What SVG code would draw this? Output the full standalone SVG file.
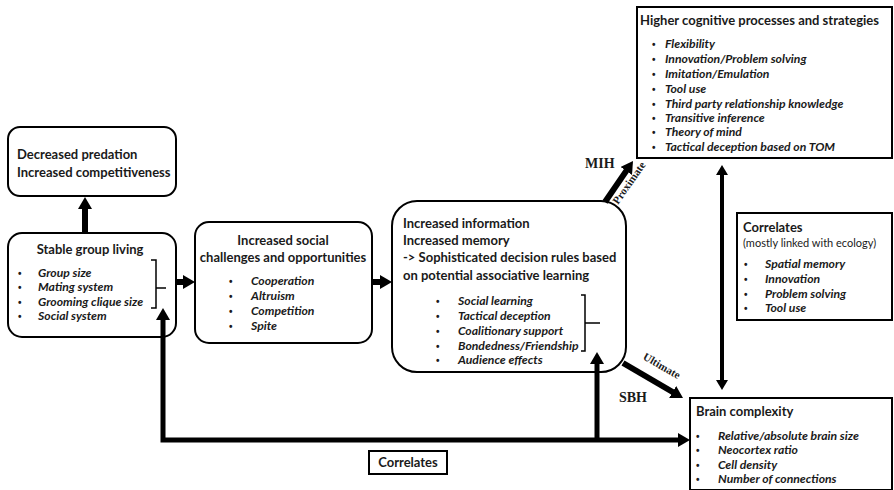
<svg xmlns="http://www.w3.org/2000/svg" width="894" height="490" viewBox="0 0 894 490">
<style>
.box{fill:#fff;stroke:#000;stroke-width:2}
.t{font-family:Lato,"Liberation Sans",sans-serif;font-weight:700;font-size:13px;fill:#1a1a1a}
.s{font-family:Lato,"Liberation Sans",sans-serif;font-size:11px;fill:#1a1a1a}
.b{font-family:Lato,"Liberation Sans",sans-serif;font-weight:700;font-style:italic;font-size:12.2px;fill:#1a1a1a}
.d{font-family:"Liberation Sans",sans-serif;font-weight:700;font-size:10px;fill:#1a1a1a}
.sr{font-family:"Liberation Serif",serif;font-weight:700;fill:#1a1a1a}
.c{fill:none;stroke:#000}
.br{fill:none;stroke:#000;stroke-width:1.5}
</style>
<defs>
<marker id="ah" viewBox="0 0 12 14" markerWidth="12" markerHeight="14" refX="1" refY="7" orient="auto-start-reverse" markerUnits="userSpaceOnUse"><path d="M0,0 L12,7 L0,14 z" fill="#000"/></marker>
<marker id="ah2" viewBox="0 0 10 12" markerWidth="10" markerHeight="12" refX="1" refY="6" orient="auto-start-reverse" markerUnits="userSpaceOnUse"><path d="M0,0 L10,6 L0,12 z" fill="#000"/></marker>
</defs>

<g id="decreased">
<rect class="box" x="8" y="127" width="168" height="69" rx="12"/>
<text class="t" x="17" y="159">Decreased predation</text>
<text class="t" x="17" y="177">Increased competitiveness</text>
</g>

<g id="stable">
<rect class="box" x="8" y="233" width="168" height="104" rx="14"/>
<text class="t" x="90" y="254" text-anchor="middle">Stable group living</text>
<g class="d"><text x="18" y="277">•</text><text x="18" y="291">•</text><text x="18" y="306">•</text><text x="18" y="320">•</text></g>
<text class="b" x="38" y="277">Group size</text>
<text class="b" x="38" y="291">Mating system</text>
<text class="b" x="38" y="306">Grooming clique size</text>
<text class="b" x="38" y="320">Social system</text>
<path class="br" d="M151,260 H156 V308 H151 M156,288 H166"/>
</g>

<g id="social">
<rect class="box" x="195" y="222" width="177" height="121" rx="14"/>
<text class="t" x="283" y="245" text-anchor="middle">Increased social</text>
<text class="t" x="283" y="262" text-anchor="middle">challenges and opportunities</text>
<g class="d"><text x="229" y="285">•</text><text x="229" y="300">•</text><text x="229" y="315">•</text><text x="229" y="330">•</text></g>
<text class="b" x="251" y="285">Cooperation</text>
<text class="b" x="251" y="300">Altruism</text>
<text class="b" x="251" y="315">Competition</text>
<text class="b" x="251" y="330">Spite</text>
</g>

<g id="info">
<rect class="box" x="392" y="201" width="234" height="171" rx="25"/>
<text class="t" x="403" y="228">Increased information</text>
<text class="t" x="403" y="245">Increased memory</text>
<text class="t" x="403" y="262">-&gt; Sophisticated decision rules based</text>
<text class="t" x="403" y="280">on potential associative learning</text>
<g class="d"><text x="436" y="305">•</text><text x="436" y="320">•</text><text x="436" y="335">•</text><text x="436" y="350">•</text><text x="436" y="364">•</text></g>
<text class="b" x="458" y="305">Social learning</text>
<text class="b" x="458" y="320">Tactical deception</text>
<text class="b" x="458" y="335">Coalitionary support</text>
<text class="b" x="458" y="350">Bondedness/Friendship</text>
<text class="b" x="458" y="364">Audience effects</text>
<path class="br" d="M581,295 H585 V351 H581 M585,323 H600"/>
</g>

<g id="higher">
<rect class="box" x="637" y="7" width="255" height="151"/>
<text class="t" x="640" y="25" font-size="13.4">Higher cognitive processes and strategies</text>
<g class="d"><text x="652" y="48">•</text><text x="652" y="63">•</text><text x="652" y="78">•</text><text x="652" y="93">•</text><text x="652" y="108">•</text><text x="652" y="122">•</text><text x="652" y="136">•</text><text x="652" y="151">•</text></g>
<text class="b" x="665" y="48">Flexibility</text>
<text class="b" x="665" y="63">Innovation/Problem solving</text>
<text class="b" x="665" y="78">Imitation/Emulation</text>
<text class="b" x="665" y="93">Tool use</text>
<text class="b" x="665" y="108">Third party relationship knowledge</text>
<text class="b" x="665" y="122">Transitive inference</text>
<text class="b" x="665" y="136">Theory of mind</text>
<text class="b" x="665" y="151">Tactical deception based on TOM</text>
</g>

<g id="correlates-eco">
<rect class="box" x="737" y="213" width="155" height="107"/>
<text class="t" x="743" y="232">Correlates</text>
<text class="s" x="743" y="247">(mostly linked with ecology)</text>
<g class="d"><text x="744" y="268">•</text><text x="744" y="283">•</text><text x="744" y="298">•</text><text x="744" y="312">•</text></g>
<text class="b" x="765" y="268">Spatial memory</text>
<text class="b" x="765" y="283">Innovation</text>
<text class="b" x="765" y="298">Problem solving</text>
<text class="b" x="765" y="312">Tool use</text>
</g>

<g id="brain">
<rect class="box" x="690" y="398" width="202" height="92"/>
<text class="t" x="696" y="416">Brain complexity</text>
<g class="d"><text x="696" y="440">•</text><text x="696" y="454">•</text><text x="696" y="469">•</text><text x="696" y="483">•</text></g>
<text class="b" x="718" y="440">Relative/absolute brain size</text>
<text class="b" x="718" y="454">Neocortex ratio</text>
<text class="b" x="718" y="469">Cell density</text>
<text class="b" x="718" y="483">Number of connections</text>
</g>

<g id="correlates">
<rect class="box" x="369" y="451" width="78" height="23"/>
<text class="t" x="408" y="467" text-anchor="middle">Correlates</text>
</g>

<g id="connectors">
<line class="c" x1="85" y1="233" x2="85" y2="208" stroke-width="6" marker-end="url(#ah)"/>
<line class="c" x1="176" y1="282" x2="184" y2="282" stroke-width="6" marker-end="url(#ah)"/>
<line class="c" x1="372" y1="282" x2="381" y2="282" stroke-width="6" marker-end="url(#ah)"/>
<path class="c" d="M163,319 L163,440 L679,440" stroke-width="5" marker-start="url(#ah)" marker-end="url(#ah)"/>
<path class="c" d="M597,440 L597,363" stroke-width="5" marker-end="url(#ah)"/>
<line class="c" x1="605" y1="202" x2="626.8" y2="170.1" stroke-width="6" marker-end="url(#ah)"/>
<line class="c" x1="623" y1="363" x2="673.5" y2="392.5" stroke-width="6" marker-end="url(#ah)"/>
<line class="c" x1="722" y1="174" x2="722" y2="381" stroke-width="4" marker-start="url(#ah2)" marker-end="url(#ah2)"/>
<text class="sr" x="585" y="168" font-size="14">MIH</text>
<text class="sr" x="619" y="402" font-size="14">SBH</text>
<text class="sr" font-size="11" transform="translate(632,185) rotate(-55)" text-anchor="middle">Proximate</text>
<text class="sr" font-size="11" transform="translate(660,369) rotate(30)" text-anchor="middle">Ultimate</text>
</g>
</svg>
